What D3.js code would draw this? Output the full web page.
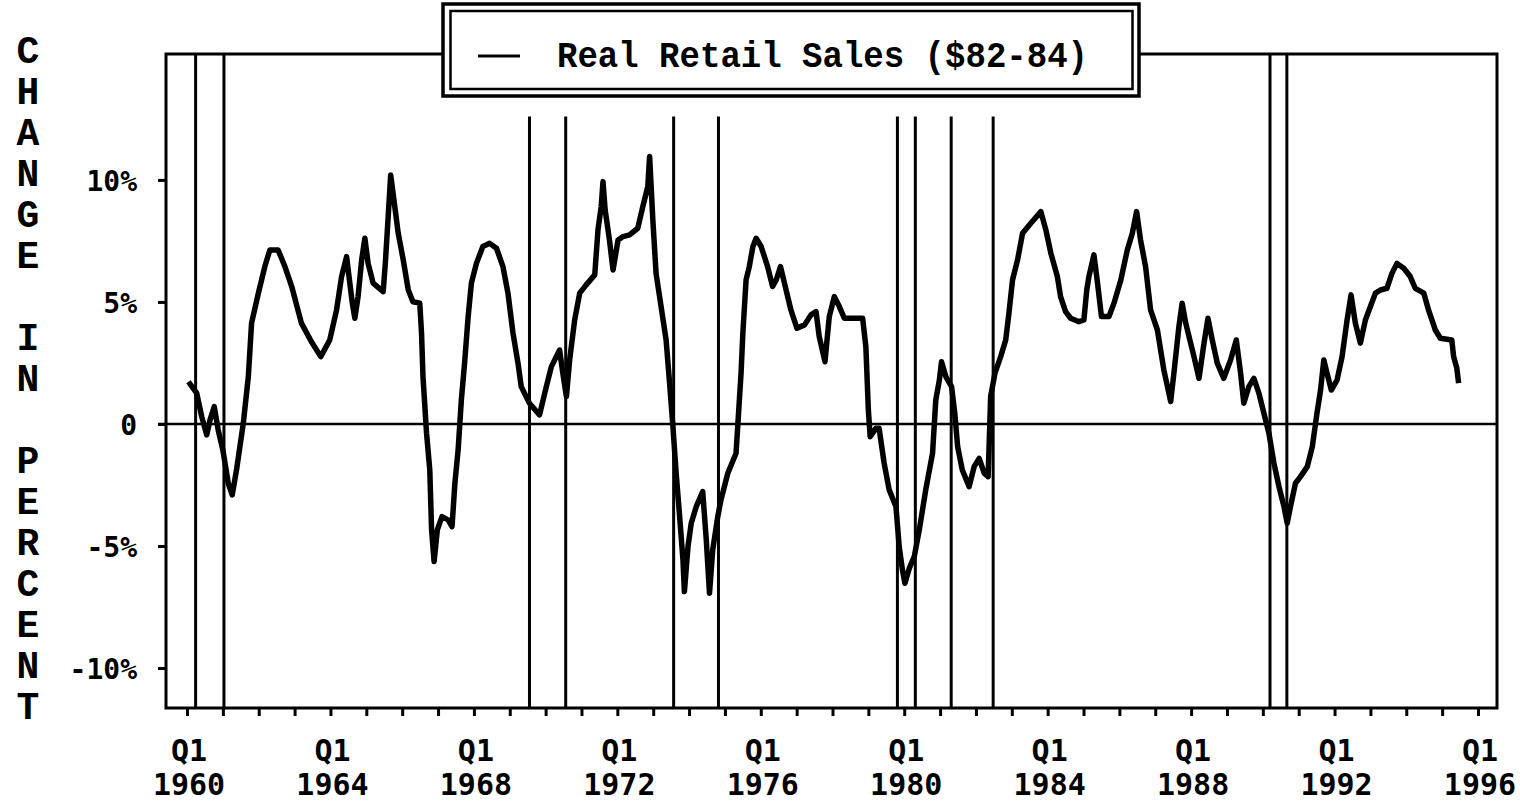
<!DOCTYPE html>
<html>
<head>
<meta charset="utf-8">
<script src="https://cdn.jsdelivr.net/npm/d3@7"></script>
<style>
  body { margin: 0; background: #fff; }
  svg { display: block; }
</style>
</head>
<body>
<svg id="chart"></svg>
<script>
// yearly change in real retail sales (decimal year, percent)
var years = [
  1960.04,1960.27,1960.41,1960.55,1960.64,1960.76,1960.87,1961.00,1961.15,1961.26,1961.38,1961.57,1961.71,1961.80,1961.99,
  1962.17,1962.31,1962.54,1962.73,1962.92,1963.19,1963.47,1963.73,1963.98,1964.17,1964.31,1964.45,1964.54,1964.61,1964.68,
  1964.77,1964.87,1964.96,1965.05,1965.19,1965.47,1965.53,1965.61,1965.68,1965.77,1965.89,1966.03,1966.17,1966.30,1966.49,
  1966.54,1966.58,1966.68,1966.77,1966.82,1966.89,1966.98,1967.11,1967.28,1967.39,1967.47,1967.56,1967.65,1967.74,1967.84,
  1967.93,1968.07,1968.25,1968.44,1968.63,1968.81,1968.95,1969.09,1969.23,
  1969.32,1969.55,1969.83,1970.02,1970.16,1970.39,1970.48,1970.58,1970.67,1970.81,1970.95,1971.13,1971.37,1971.46,1971.55,
  1971.60,1971.66,1971.78,1971.88,1972.02,1972.16,1972.34,1972.57,1972.71,1972.85,1972.90,1972.99,1973.08,1973.22,1973.36,
  1973.45,1973.55,1973.64,1973.73,1973.83,1973.87,1973.97,1974.06,1974.20,1974.38,1974.48,1974.57,1974.66,1974.80,1974.89,
  1975.08,1975.31,1975.38,1975.45,1975.50,1975.59,1975.68,1975.78,1975.87,1976.01,1976.19,1976.33,1976.43,1976.55,1976.66,
  1976.84,1977.01,1977.22,1977.40,1977.54,1977.63,1977.79,1977.91,1978.05,1978.19,1978.33,1978.61,1978.84,
  1978.93,1979.00,1979.05,1979.21,1979.30,1979.44,1979.58,1979.77,1979.86,1979.95,1980.02,1980.14,1980.28,1980.42,1980.60,
  1980.79,1980.88,1980.98,1981.04,1981.16,1981.32,1981.41,1981.49,1981.62,1981.81,1981.95,1982.09,1982.23,1982.34,1982.41,
  1982.53,1982.69,1982.83,1982.92,1983.02,1983.16,1983.30,1983.53,1983.81,1983.95,1984.09,1984.27,1984.36,1984.50,1984.64,
  1984.87,1985.01,1985.09,1985.15,1985.29,1985.38,1985.50,1985.71,1985.85,1986.04,1986.22,1986.36,1986.48,1986.59,1986.73,
  1986.87,1987.06,1987.24,1987.43,1987.52,1987.66,1987.75,1987.85,
  1988.08,1988.22,1988.36,1988.47,1988.59,1988.73,1988.91,1989.10,1989.26,1989.38,1989.47,1989.61,1989.75,1989.89,1990.03,
  1990.17,1990.31,1990.45,1990.59,1990.68,1990.77,1990.91,1991.05,1991.24,1991.38,1991.51,1991.61,1991.70,1991.79,1991.91,
  1992.07,1992.21,1992.35,1992.46,1992.58,1992.72,1992.86,1993.00,1993.14,1993.28,1993.46,1993.60,1993.74,1993.93,1994.11,
  1994.25,1994.49,1994.62,1994.81,1994.95,1995.27,1995.32,1995.41,1995.46
];
var growth = [
  1.73,1.26,0.30,-0.45,0.16,0.71,-0.25,-1.07,-2.43,-2.91,-1.89,0.03,1.94,4.13,5.36,
  6.45,7.13,7.13,6.45,5.63,4.13,3.37,2.76,3.44,4.67,6.04,6.86,5.77,4.95,4.33,
  5.22,6.72,7.61,6.58,5.77,5.42,6.58,8.50,10.20,9.18,7.81,6.72,5.49,5.01,4.95,
  3.72,1.94,-0.38,-1.89,-4.34,-5.64,-4.34,-3.80,-3.93,-4.21,-2.43,-1.07,0.98,2.49,4.40,
  5.77,6.58,7.27,7.40,7.20,6.45,5.36,3.72,2.49,
  1.53,0.85,0.37,1.53,2.35,3.03,2.08,1.12,2.62,4.26,5.36,5.70,6.11,7.95,8.91,
  9.93,8.77,7.54,6.31,7.54,7.68,7.75,8.02,8.91,9.73,10.96,8.36,6.17,4.81,3.44,
  1.80,-0.11,-2.02,-3.66,-5.57,-6.87,-5.03,-4.07,-3.39,-2.77,-4.75,-6.94,-5.16,-3.80,-3.11,
  -2.02,-1.20,0.44,2.08,3.72,5.90,6.45,7.27,7.61,7.27,6.45,5.63,5.90,6.45,5.77,
  4.67,3.92,4.06,4.47,4.60,3.58,2.55,4.40,5.22,4.81,4.33,4.33,4.33,
  3.17,0.57,-0.52,-0.18,-0.18,-1.61,-2.70,-3.39,-5.03,-5.98,-6.53,-5.92,-5.44,-4.34,-2.70,
  -1.20,0.98,1.80,2.55,1.94,1.53,0.44,-0.93,-1.89,-2.57,-1.75,-1.41,-2.02,-2.16,1.12,
  2.08,2.76,3.44,4.54,5.90,6.72,7.81,8.22,8.70,7.95,6.99,6.04,5.22,4.60,4.33,
  4.19,4.26,5.49,6.04,6.93,5.90,4.40,4.40,4.95,5.90,7.13,7.81,8.70,7.54,6.45,
  4.67,3.85,2.21,0.92,2.08,3.99,4.95,4.13,
  2.76,1.87,3.31,4.33,3.44,2.49,1.87,2.62,3.44,2.08,0.85,1.53,1.87,1.26,0.44,
  -0.38,-1.61,-2.57,-3.39,-4.07,-3.39,-2.43,-2.16,-1.75,-0.93,0.44,1.39,2.62,2.08,1.39,
  1.80,2.76,4.26,5.29,4.13,3.31,4.26,4.81,5.36,5.49,5.56,6.17,6.58,6.38,6.04,
  5.56,5.36,4.67,3.85,3.51,3.44,2.76,2.28,1.67
];

// recession bars (start/end as decimal year, top in percent; null = to the frame)
var recessionStart = [1960.24, 1969.55, 1973.57, 1979.81, 1981.31, 1990.20];
var recessionEnd   = [1961.03, 1970.56, 1974.82, 1980.31, 1982.48, 1990.67];
var recessionTop   = [null, 12.6, 12.6, 12.6, 12.6, null];

var yTicks = [10, 5, 0, -5, -10];
var yTickLabels = ["10%", "5%", "0", "-5%", "-10%"];
var labelYears = [1960, 1964, 1968, 1972, 1976, 1980, 1984, 1988, 1992, 1996];
var axisTitle = "CHANGE IN PERCENT";
var seriesName = "Real Retail Sales ($82-84)";

var W = 1520, H = 802;
var pLeft = 166, pRight = 1497, pTop = 54, pBottom = 708;

var svg = d3.select("#chart").attr("width", W).attr("height", H);
svg.append("rect").attr("width", W).attr("height", H).attr("fill", "#fff");

var x = d3.scaleLinear().domain([1959.414, 1996.53]).range([pLeft, pRight]);
var y = d3.scaleLinear().domain([-11.64, 15.16]).range([pBottom, pTop]);

// recession lines
recessionStart.forEach(function(s, i){
    var yt = recessionTop[i] == null ? pTop : y(recessionTop[i]);
    [s, recessionEnd[i]].forEach(function(d){
        svg.append("line")
            .attr("x1", x(d)).attr("x2", x(d))
            .attr("y1", yt).attr("y2", pBottom)
            .attr("stroke", "#000").attr("stroke-width", 3);
    });
});

// zero line
svg.append("line")
    .attr("x1", pLeft - 8).attr("x2", pRight)
    .attr("y1", y(0)).attr("y2", y(0))
    .attr("stroke", "#000").attr("stroke-width", 2.5);

// frame
svg.append("rect")
    .attr("x", pLeft).attr("y", pTop)
    .attr("width", pRight - pLeft).attr("height", pBottom - pTop)
    .attr("fill", "none").attr("stroke", "#000").attr("stroke-width", 3);

// y axis
var yAxis = d3.axisLeft(y).tickValues(yTicks).tickSize(8).tickPadding(21)
    .tickFormat(function(d, i){ return yTickLabels[i]; });
var gy = svg.append("g").attr("transform", "translate(" + pLeft + ",0)").call(yAxis);
gy.select(".domain").remove();
gy.selectAll(".tick line").attr("stroke", "#000").attr("stroke-width", 3);
gy.selectAll(".tick text")
    .attr("fill", "#000")
    .attr("font-family", "'DejaVu Sans Mono', monospace")
    .attr("font-weight", "bold")
    .attr("font-size", 28)
    .attr("dy", "0.36em");

// x axis, a tick every year
var xAxis = d3.axisBottom(x).tickValues(d3.range(1960, 1997)).tickSize(8).tickFormat("");
var gx = svg.append("g").attr("transform", "translate(0," + pBottom + ")").call(xAxis);
gx.select(".domain").remove();
gx.selectAll(".tick line").attr("stroke", "#000").attr("stroke-width", 3);

var xl = svg.append("g")
    .attr("font-family", "'DejaVu Sans Mono', monospace")
    .attr("font-weight", "bold")
    .attr("font-size", 30)
    .attr("text-anchor", "middle");
labelYears.forEach(function(yr){
    xl.append("text").attr("x", x(yr) + 2).attr("y", 761).text("Q1");
    xl.append("text").attr("x", x(yr) + 2).attr("y", 795).text(yr);
});

// stacked axis title
var ya = svg.append("g")
    .attr("font-family", "'Liberation Mono', monospace")
    .attr("font-weight", "bold")
    .attr("font-size", 38)
    .attr("text-anchor", "middle");
axisTitle.split("").forEach(function(c, i){
    if (c === " ") return;
    ya.append("text").attr("x", 28).attr("y", 52 + 41 * i + 11).text(c);
});

// the series
var line = d3.line().x(function(d){ return x(d[0]); }).y(function(d){ return y(d[1]); });
svg.append("path")
    .datum(d3.zip(years, growth))
    .attr("d", line)
    .attr("fill", "none")
    .attr("stroke", "#000")
    .attr("stroke-width", 5.5)
    .attr("stroke-linejoin", "round");

// legend with double border
svg.append("rect").attr("x", 443).attr("y", 4).attr("width", 696).attr("height", 92)
    .attr("fill", "#fff").attr("stroke", "#000").attr("stroke-width", 3.5);
svg.append("rect").attr("x", 450.5).attr("y", 11).attr("width", 682).attr("height", 78)
    .attr("fill", "none").attr("stroke", "#000").attr("stroke-width", 2.5);
svg.append("line").attr("x1", 478).attr("x2", 520).attr("y1", 56).attr("y2", 56)
    .attr("stroke", "#000").attr("stroke-width", 3);
svg.append("text")
    .attr("x", 557).attr("y", 67)
    .attr("font-family", "'Liberation Mono', monospace")
    .attr("font-weight", "bold")
    .attr("font-size", 36)
    .attr("textLength", 531)
    .attr("lengthAdjust", "spacingAndGlyphs")
    .text(seriesName);
</script>
</body>
</html>
